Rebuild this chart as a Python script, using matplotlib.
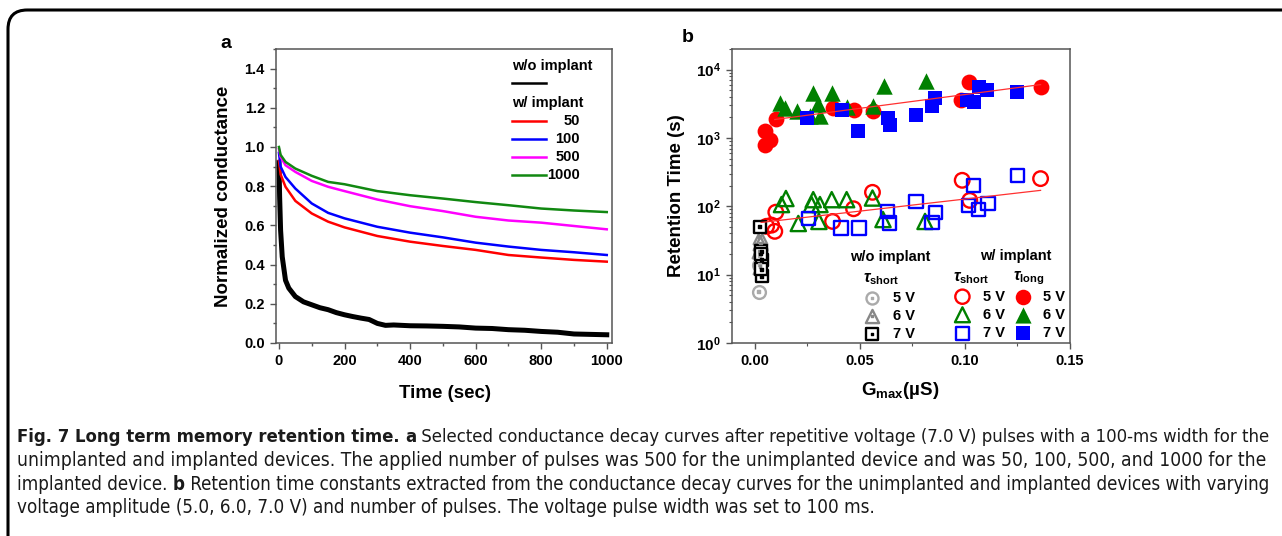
import numpy as np
import matplotlib
matplotlib.use('Agg')
from matplotlib import pyplot as plt
from matplotlib import font_manager
from matplotlib.patches import FancyBboxPatch
from matplotlib.lines import Line2D
from matplotlib.ticker import MultipleLocator, LogLocator, NullFormatter, FixedLocator

rc_fonts = {
    'font.family': ['Liberation Sans', 'DejaVu Sans'],
    'font.weight': 'bold',
    'mathtext.fontset': 'custom',
    'mathtext.rm': 'Liberation Sans:bold',
    'mathtext.bf': 'Liberation Sans:bold',
    'mathtext.it': 'Liberation Sans:bold:italic',
    'mathtext.sf': 'Liberation Sans:bold',
    'axes.linewidth': 1.1,
    'axes.edgecolor': '#555555',
    'xtick.direction': 'out',
    'ytick.direction': 'out',
    'xtick.color': '#555555',
    'ytick.color': '#555555',
    'xtick.labelcolor': 'black',
    'ytick.labelcolor': 'black',
    'xtick.labelsize': 10.5,
    'ytick.labelsize': 10.5,
}
matplotlib.rcParams.update(rc_fonts)

# ---------------- panel a : conductance decay ----------------
t_color = [0, 5, 20, 50, 100, 150, 200, 300, 400, 500, 600, 700, 800, 900, 1000]
g_50 = [0.93, 0.86, 0.797, 0.725, 0.661, 0.619, 0.59, 0.546, 0.517, 0.495, 0.475, 0.449, 0.436, 0.424, 0.415]
g_100 = [0.97, 0.90, 0.847, 0.788, 0.712, 0.664, 0.636, 0.593, 0.563, 0.539, 0.512, 0.492, 0.475, 0.463, 0.449]
g_500 = [0.99, 0.95, 0.907, 0.873, 0.827, 0.797, 0.775, 0.732, 0.698, 0.673, 0.644, 0.625, 0.614, 0.597, 0.58]
g_1000 = [1.0, 0.96, 0.924, 0.89, 0.853, 0.822, 0.81, 0.775, 0.754, 0.737, 0.719, 0.703, 0.686, 0.676, 0.668]

t_black = [0, 2, 5, 10, 20, 30, 50, 75, 100, 125, 150, 175, 200, 225, 250, 275, 300, 325, 350,
           400, 450, 500, 550, 600, 650, 700, 750, 800, 850, 900, 950, 1000]
g_black = [0.92, 0.75, 0.576, 0.44, 0.32, 0.28, 0.237, 0.21, 0.195, 0.18, 0.17, 0.155, 0.144, 0.135,
           0.127, 0.12, 0.10, 0.09, 0.092, 0.088, 0.087, 0.085, 0.082, 0.076, 0.074, 0.068, 0.065,
           0.059, 0.055, 0.046, 0.044, 0.042]

curve_labels = ['50', '100', '500', '1000']
curve_colors = ['#ff0000', '#0000ff', '#ff00ff', '#118811']

# ---------------- panel b : retention times ----------------
# w/ implant, tau_long (filled)
long5_x = [0.0048, 0.0072, 0.0048, 0.0100, 0.0374, 0.0473, 0.0562, 0.0982, 0.1018, 0.1360]
long5_y = [1247, 942, 796, 1896, 2747, 2594, 2449, 3633, 6510, 5507]
long6_x = [0.0119, 0.0143, 0.0199, 0.0263, 0.0278, 0.0302, 0.0310, 0.0366, 0.0438, 0.0562, 0.0613, 0.0816]
long6_y = [3250, 2740, 2450, 2070, 4570, 3090, 2070, 4570, 2830, 2960, 5690, 6740]
long7_x = [0.0250, 0.0414, 0.0493, 0.0632, 0.0641, 0.0767, 0.0843, 0.0859, 0.1010, 0.1042, 0.1066, 0.1106, 0.1249]
long7_y = [1960, 2580, 1250, 1960, 1560, 2190, 2900, 3850, 3630, 3320, 5570, 5000, 4650]

# w/ implant, tau_short (open)
short5_x = [0.0056, 0.0080, 0.0095, 0.0100, 0.0370, 0.0470, 0.0560, 0.0987, 0.1023, 0.1360]
short5_y = [51, 53, 43, 82, 60, 92, 160, 240, 122, 254]
short6_x = [0.0127, 0.0148, 0.0207, 0.0270, 0.0278, 0.0305, 0.0310, 0.0366, 0.0437, 0.0560, 0.0610, 0.0810]
short6_y = [106, 130, 56, 106, 125, 60, 106, 125, 125, 132, 64, 60]
short7_x = [0.0255, 0.0410, 0.0496, 0.0633, 0.0640, 0.0767, 0.0843, 0.0859, 0.1018, 0.1040, 0.1066, 0.1110, 0.1249]
short7_y = [67, 48, 48, 84, 57, 116, 58, 82, 102, 200, 89, 110, 284]

# w/o implant, tau_short
wo5_x = [0.0019, 0.0022, 0.0024]
wo5_y = [5.6, 14, 19]
wo6_x = [0.0024, 0.0026, 0.0022, 0.0025]
wo6_y = [36, 29, 22, 13]
wo7_x = [0.0024, 0.0030, 0.0032, 0.0028, 0.0033, 0.0030]
wo7_y = [50, 22, 16.5, 20, 9.5, 12]

# exponential fits (end points)
fit_long_x = [0.0095, 0.136]
fit_long_y = [1860, 6030]
fit_short_x = [0.003, 0.136]
fit_short_y = [58, 171]

W, H = 1282, 536
fig = plt.figure(figsize=(W / 100, H / 100), dpi=100)

# caption frame (only left/top edges visible in the page)
frame = FancyBboxPatch((8 / W, -0.2), 1.2, 1.2 - 10 / H, transform=fig.transFigure,
                       boxstyle='round,pad=0,rounding_size=0.015', fc='none', ec='black', lw=2.2,
                       mutation_aspect=W / H)
fig.patches.append(frame)

axa = fig.add_axes([276 / W, 1 - 343 / H, 336 / W, 294 / H])
axb = fig.add_axes([731.7 / W, 1 - 343 / H, 338.3 / W, 294 / H])

# ---- panel a
axa.plot(t_black, g_black, c='black', lw=3.6, zorder=2, solid_joinstyle='round')
for tt, gg, c in zip([t_color] * 4, [g_50, g_100, g_500, g_1000], curve_colors):
    axa.plot(tt, gg, c=c, lw=1.8, zorder=3)

axa.set_xlim(-9, 1016)
axa.set_ylim(0, 1.5)
axa.set_xticks([0, 200, 400, 600, 800, 1000])
axa.xaxis.set_minor_locator(MultipleLocator(100))
axa.set_yticks(np.arange(0, 1.41, 0.2))
axa.set_yticklabels(['%.1f' % v for v in np.arange(0, 1.41, 0.2)])
axa.yaxis.set_minor_locator(MultipleLocator(0.1))
axa.tick_params(which='major', length=4, width=1.0, pad=4)
axa.tick_params(which='minor', length=2.5, width=1.0)
axa.set_xlabel('Time (sec)', fontsize=13.5, fontweight='bold')
axa.xaxis.set_label_coords(0.503, -0.143)
axa.set_ylabel('Normalized conductance', fontsize=13.5, fontweight='bold')
axa.yaxis.set_label_coords(-0.132, 0.5)

# manual legend a
axa.text(0.702, 0.942, 'w/o implant', transform=axa.transAxes, fontsize=10.5, fontweight='bold', va='center')
axa.add_line(Line2D([0.702, 0.804], [0.884, 0.884], transform=axa.transAxes, c='black', lw=1.8))
axa.text(0.702, 0.816, 'w/ implant', transform=axa.transAxes, fontsize=10.5, fontweight='bold', va='center')
for lab, c, yy in zip(curve_labels, curve_colors, [0.755, 0.694, 0.633, 0.571]):
    axa.add_line(Line2D([0.702, 0.804], [yy, yy], transform=axa.transAxes, c=c, lw=1.8))
    axa.text(0.905, yy, lab, transform=axa.transAxes, fontsize=10.5, fontweight='bold', va='center', ha='right')

fig.text(226 / W, 1 - 44 / H, 'a', fontsize=14, fontweight='bold', ha='center', va='center')
fig.text(688 / W, 1 - 38 / H, 'b', fontsize=14, fontweight='bold', ha='center', va='center')

# ---- panel b
red, green, blue = '#ff0000', '#008000', '#0000ff'
axb.plot(fit_long_x, fit_long_y, c='#ff3030', lw=0.9, zorder=5)
axb.plot(fit_short_x, fit_short_y, c='#ff3030', lw=0.9, zorder=5)

axb.scatter(short5_x, short5_y, s=110, marker='o', facecolors='none', edgecolors=red, linewidths=1.7, zorder=3)
axb.scatter(short6_x, short6_y, s=120, marker='^', facecolors='none', edgecolors=green, linewidths=1.7, zorder=3)
axb.scatter(short7_x, short7_y, s=90, marker='s', facecolors='none', edgecolors=blue, linewidths=1.7, zorder=3)

axb.scatter(long5_x, long5_y, s=130, marker='o', c=red, linewidths=0, zorder=3)
axb.scatter(long6_x, long6_y, s=140, marker='^', c=green, linewidths=0, zorder=3)
axb.scatter(long7_x, long7_y, s=100, marker='s', c=blue, linewidths=0, zorder=4)

axb.scatter(wo5_x, wo5_y, s=85, marker='o', facecolors='white', edgecolors='#aaaaaa', linewidths=1.7, zorder=3)
axb.scatter(wo6_x, wo6_y, s=95, marker='^', facecolors='white', edgecolors='#888888', linewidths=1.7, zorder=3)
axb.scatter(wo7_x, wo7_y, s=75, marker='s', facecolors='white', edgecolors='black', linewidths=1.7, zorder=3)
axb.scatter(wo5_x + wo6_x + wo7_x, wo5_y + wo6_y + wo7_y, s=4, marker='s',
            c=['#aaaaaa'] * 3 + ['#888888'] * 4 + ['black'] * 6, zorder=4)

axb.set_yscale('log')
axb.set_xlim(-0.011, 0.15)
axb.set_ylim(1, 2e4)
axb.set_xticks([0, 0.05, 0.10, 0.15])
axb.set_xticklabels(['0.00', '0.05', '0.10', '0.15'])
axb.xaxis.set_minor_locator(MultipleLocator(0.025))
axb.yaxis.set_major_locator(FixedLocator([1, 10, 100, 1000, 10000]))
axb.set_yticklabels([r'$10^{0}$', r'$10^{1}$', r'$10^{2}$', r'$10^{3}$', r'$10^{4}$'], fontsize=11)
axb.yaxis.set_minor_locator(LogLocator(base=10, subs=np.arange(2, 10)))
axb.yaxis.set_minor_formatter(NullFormatter())
axb.tick_params(which='major', length=4, width=1.0, pad=4)
axb.tick_params(which='minor', length=2.5, width=0.8)
axb.set_xlabel(r'G$_{\mathbf{max}}$(µS)', fontsize=13.5, fontweight='bold')
axb.xaxis.set_label_coords(0.497, -0.126)
axb.set_ylabel('Retention Time (s)', fontsize=13.5, fontweight='bold')
axb.yaxis.set_label_coords(-0.138, 0.5)

# manual legend b
tb = axb.transAxes
axb.text(0.468, 0.2935, 'w/o implant', transform=tb, fontsize=10.5, fontweight='bold', ha='center', va='center')
axb.text(0.8395, 0.297, 'w/ implant', transform=tb, fontsize=10.5, fontweight='bold', ha='center', va='center')
axb.text(0.388, 0.218, r'$\tau_{\rm short}$', transform=tb, fontsize=11.5, va='center')
axb.text(0.653, 0.221, r'$\tau_{\rm short}$', transform=tb, fontsize=11.5, va='center')
axb.text(0.832, 0.221, r'$\tau_{\rm long}$', transform=tb, fontsize=11.5, va='center')
rows_wo = [0.154, 0.093, 0.031]
rows_w = [0.1575, 0.096, 0.033]
volts = ['5 V', '6 V', '7 V']
wo_style = [('o', '#aaaaaa', 75), ('^', '#888888', 90), ('s', 'black', 70)]
for (mk, col, sz), yy, v in zip(wo_style, rows_wo, volts):
    axb.scatter([0.4156], [yy], s=sz, marker=mk, facecolors='white', edgecolors=col, linewidths=1.7,
                transform=tb, clip_on=False, zorder=6)
    axb.scatter([0.4156], [yy], s=4, marker='s', c=col, transform=tb, clip_on=False, zorder=7)
    axb.text(0.477, yy, v, transform=tb, fontsize=10.5, fontweight='bold', va='center')
for (mk, col, sz), yy, v in zip([('o', red, 105), ('^', green, 115), ('s', blue, 85)], rows_w, volts):
    axb.scatter([0.682], [yy], s=sz, marker=mk, facecolors='none', edgecolors=col, linewidths=1.7,
                transform=tb, clip_on=False, zorder=6)
    axb.text(0.742, yy, v, transform=tb, fontsize=10.5, fontweight='bold', va='center')
    axb.scatter([0.861], [yy], s=sz + 20, marker=mk, c=col, linewidths=0, transform=tb, clip_on=False, zorder=6)
    axb.text(0.919, yy, v, transform=tb, fontsize=10.5, fontweight='bold', va='center')

# ---------------- caption ----------------
def pick_caption_font():
    for fam, stretch in [('Liberation Sans Narrow', 'normal'), ('DejaVu Sans', 'condensed')]:
        try:
            fp = font_manager.FontProperties(family=fam, stretch=stretch)
            font_manager.findfont(fp, fallback_to_default=False)
            return fam, stretch
        except Exception:
            pass
    return 'Liberation Sans', 'normal'

cap_family, cap_stretch = pick_caption_font()

caption_lines = [
    [('Fig. 7 Long term memory retention time.', 'bold'), (' ', 'normal'), ('a', 'bold'),
     (' Selected conductance decay curves after repetitive voltage (7.0 V) pulses with a 100-ms width for the', 'normal')],
    [('unimplanted and implanted devices. The applied number of pulses was 500 for the unimplanted device and was 50, 100, 500, and 1000 for the', 'normal')],
    [('implanted device.', 'normal'), (' ', 'normal'), ('b', 'bold'),
     (' Retention time constants extracted from the conductance decay curves for the unimplanted and implanted devices with varying', 'normal')],
    [('voltage amplitude (5.0, 6.0, 7.0 V) and number of pulses. The voltage pulse width was set to 100 ms.', 'normal')],
]
caption_base = [442, 466, 490, 513]
cap_left, cap_right = 17, 1268

renderer = fig.canvas.get_renderer()

def seg_width(txt, weight, size):
    # width of a text including its spaces, measured by difference trick
    t1 = fig.text(0, 0, '|' + txt + '|', fontsize=size, fontweight=weight, family=cap_family, stretch=cap_stretch)
    t2 = fig.text(0, 0, '||', fontsize=size, fontweight=weight, family=cap_family, stretch=cap_stretch)
    w = t1.get_window_extent(renderer).width - t2.get_window_extent(renderer).width
    t1.remove()
    t2.remove()
    return w

base_size = 12
sizes = []
for segs in caption_lines[:3]:
    wsum = sum(seg_width(s, wt, base_size) for s, wt in segs)
    sizes.append(base_size * (cap_right - cap_left) / wsum)
sizes.append(np.mean(sizes))

for segs, yb, size in zip(caption_lines, caption_base, sizes):
    x = cap_left
    for s, wt in segs:
        fig.text(x / W, 1 - yb / H, s, fontsize=size, fontweight=wt, family=cap_family,
                 stretch=cap_stretch, va='baseline', ha='left', color='#1a1a1a')
        x += seg_width(s, wt, size)

fig.savefig('out.png', dpi=100)
